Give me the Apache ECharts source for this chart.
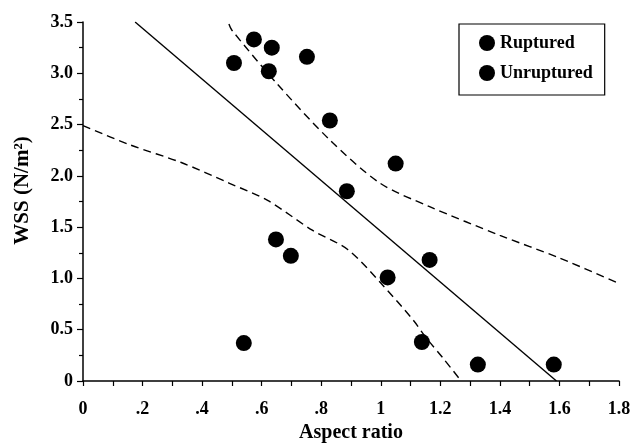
<!DOCTYPE html>
<html><head><meta charset="utf-8">
<script src="https://cdn.jsdelivr.net/npm/echarts@6/dist/echarts.min.js"></script>
<style>html,body{margin:0;padding:0;background:#fff}#c{width:632px;height:446px}</style>
</head><body><div id="c"></div>
<script>
// Aspect ratio / WSS points
const rupturedAR  = [0.886, 0.648, 0.698, 1.023, 1.164, 0.540, 1.138, 1.326, 1.581];
const rupturedWSS = [1.85, 1.38, 1.22, 1.01, 1.18, 0.37, 0.38, 0.16, 0.16];
const unrupturedAR  = [0.507, 0.574, 0.634, 0.624, 0.752, 0.829, 1.050];
const unrupturedWSS = [3.10, 3.33, 3.25, 3.02, 3.16, 2.54, 2.12];
// regression line
const fitX = [0.175, 1.59];
const fitY = [3.5, 0.0];
// confidence band curves
const upperX = [0.49, 0.50, 0.651, 0.829, 0.997, 1.164, 1.40, 1.60, 1.80];
const upperY = [3.48, 3.42, 2.90, 2.35, 1.93, 1.70, 1.42, 1.20, 0.95];
const lowerX = [0.0, 0.16, 0.33, 0.49, 0.62, 0.77, 0.89, 1.00, 1.11, 1.15, 1.21, 1.27];
const lowerY = [2.49, 2.30, 2.13, 1.93, 1.76, 1.47, 1.28, 0.955, 0.59, 0.43, 0.22, 0.0];
const xTicks = [0, 0.2, 0.4, 0.6, 0.8, 1, 1.2, 1.4, 1.6, 1.8];
const yTicks = [0, 0.5, 1.0, 1.5, 2.0, 2.5, 3.0, 3.5];

const zip = (a, b) => a.map((v, i) => [v, b[i]]);
const serif = '"Liberation Serif","DejaVu Serif",serif';
const chart = echarts.init(document.getElementById('c'));
chart.setOption({
  animation: false,
  backgroundColor: '#fff',
  grid: {left: 83, right: 13, top: 22, bottom: 65, containLabel: false, outerBoundsMode: 'none'},
  legend: {
    data: ['Ruptured', 'Unruptured'],
    orient: 'vertical', left: 459, top: 24,
    borderColor: '#000', borderWidth: 1.2,
    padding: [10, 12, 13, 20],
    itemWidth: 16, itemHeight: 16, itemGap: 12,
    icon: 'circle',
    itemStyle: {color: '#000', opacity: 1},
    textStyle: {fontFamily: serif, fontWeight: 'bold', fontSize: 18, color: '#000'}
  },
  xAxis: {
    type: 'value', min: xTicks[0], max: xTicks[xTicks.length - 1], interval: 0.2,
    name: 'Aspect ratio', nameLocation: 'middle', nameGap: 39,
    nameTextStyle: {fontFamily: serif, fontWeight: 'bold', fontSize: 20, color: '#000'},
    axisLine: {lineStyle: {color: '#000', width: 1.5}},
    axisTick: {show: true, inside: false, length: 5, lineStyle: {color: '#000', width: 1.2}},
    minorTick: {show: true, splitNumber: 2, length: 5, lineStyle: {color: '#000', width: 1.2}},
    splitLine: {show: false},
    axisLabel: {
      margin: 19, fontFamily: serif, fontWeight: 'bold', fontSize: 18, color: '#000',
      formatter: v => {
        const r = Math.round(v * 10) / 10;
        if (r === 0) return '0';
        if (r < 1) return '.' + Math.round(r * 10);
        return Number.isInteger(r) ? String(r) : r.toFixed(1);
      }
    }
  },
  yAxis: {
    type: 'value', min: yTicks[0], max: yTicks[yTicks.length - 1], interval: 0.5,
    name: 'WSS (N/m²)', nameLocation: 'middle', nameGap: 50,
    nameTextStyle: {fontFamily: serif, fontWeight: 'bold', fontSize: 21, color: '#000', padding: [0, 0, 0, 22]},
    axisLine: {show: true, lineStyle: {color: '#000', width: 1.5}},
    axisTick: {show: true, inside: false, length: 6, lineStyle: {color: '#000', width: 1.2}},
    minorTick: {show: true, splitNumber: 2, length: 4, lineStyle: {color: '#000', width: 1.2}},
    splitLine: {show: false},
    axisLabel: {
      margin: 10, fontFamily: serif, fontWeight: 'bold', fontSize: 18, color: '#000',
      formatter: v => (Math.round(v * 10) === 0 ? '0' : v.toFixed(1))
    }
  },
  series: [
    {name: 'Fit', type: 'line', data: zip(fitX, fitY), symbol: 'none',
     lineStyle: {color: '#000', width: 1.4}, z: 2},
    {name: 'Upper', type: 'line', data: zip(upperX, upperY), symbol: 'none', smooth: 0.3,
     lineStyle: {color: '#000', width: 1.4, type: [8, 5]}, z: 2},
    {name: 'Lower', type: 'line', data: zip(lowerX, lowerY), symbol: 'none', smooth: 0.3,
     lineStyle: {color: '#000', width: 1.4, type: [8, 5]}, z: 2},
    {name: 'Ruptured', type: 'scatter', data: zip(rupturedAR, rupturedWSS),
     symbol: 'circle', symbolSize: 16, itemStyle: {color: '#000', opacity: 1}, z: 3},
    {name: 'Unruptured', type: 'scatter', data: zip(unrupturedAR, unrupturedWSS),
     symbol: 'circle', symbolSize: 16, itemStyle: {color: '#000', opacity: 1}, z: 3}
  ]
});
</script></body></html>
